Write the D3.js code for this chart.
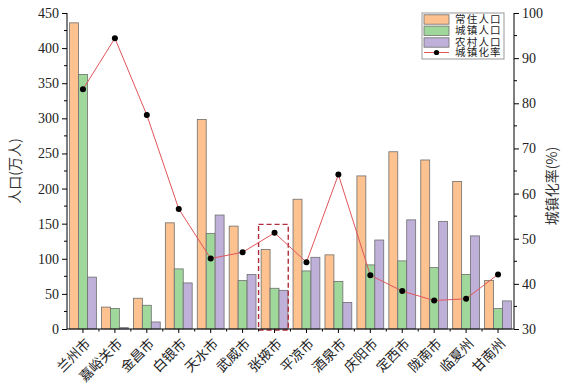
<!DOCTYPE html>
<html><head><meta charset="utf-8">
<script src="https://cdn.jsdelivr.net/npm/d3@7"></script>
<style>body{margin:0;background:#fff}svg{display:block}</style>
</head><body><svg id="c" width="576" height="387"></svg>
<script>
const categories = ["兰州市","嘉峪关市","金昌市","白银市","天水市","武威市","张掖市","平凉市","酒泉市","庆阳市","定西市","陇南市","临夏州","甘南州"];
const resident = [436, 31.2, 43.8, 151.2, 298.5, 146.5, 113.1, 184.8, 105.6, 218.0, 252.4, 240.7, 210.1, 69.1];
const urban = [362.5, 29.3, 33.8, 85.6, 136.2, 68.9, 58.0, 82.7, 67.8, 91.3, 97.0, 87.4, 77.5, 29.1];
const rural = [73.9, 1.9, 10.0, 65.6, 162.3, 77.6, 55.1, 102.1, 37.8, 126.7, 155.4, 153.3, 132.6, 40.0];
const rate = [83.1, 94.4, 77.4, 56.6, 45.6, 47.0, 51.3, 44.8, 64.2, 41.9, 38.4, 36.3, 36.7, 42.1];
const seriesNames = ["常住人口","城镇人口","农村人口"];
const lineName = "城镇化率";
const leftTicks = [0,50,100,150,200,250,300,350,400,450];
const rightTicks = [30,40,50,60,70,80,90,100];
const highlight = "张掖市";

const colors = ["#fdc28f","#a0d79b","#bfb0d9"];
const numFont = "'Liberation Serif', 'DejaVu Serif', serif";
const cjkFont = "'Noto Sans CJK SC', sans-serif";

const svg = d3.select("#c");
const L = 67, R = 514, T = 13, B = 329;

const x0 = d3.scaleBand().domain(categories).range([L, R]).padding(0);
const bw = x0.bandwidth();
const x1 = d3.scaleBand().domain(seriesNames).range([bw*0.08, bw*0.92]).padding(0);
const y = d3.scaleLinear().domain([0,450]).range([B, T]);
const y2 = d3.scaleLinear().domain([30,100]).range([B, T]);

const data = categories.map((c,i)=>({c, v:[resident[i], urban[i], rural[i]], r: rate[i]}));

// bars
const g = svg.append("g");
data.forEach(d=>{
  seriesNames.forEach((s,j)=>{
    g.append("rect")
      .attr("x", x0(d.c)+x1(s)).attr("y", y(d.v[j]))
      .attr("width", x1.bandwidth()).attr("height", B - y(d.v[j]))
      .attr("fill", colors[j]).attr("stroke","#6e6e6e").attr("stroke-width",0.8);
  });
});

// highlight dashed box
svg.append("rect")
  .attr("x", x0(highlight)).attr("y", y(149))
  .attr("width", bw*0.93).attr("height", B - y(149) + 1)
  .attr("fill","none").attr("stroke","#b02c3c").attr("stroke-width",1.4)
  .attr("stroke-dasharray","5,3");

// line
const line = d3.line().x(d=>x0(d.c)+bw/2).y(d=>y2(d.r));
svg.append("path").datum(data).attr("d", line)
  .attr("fill","none").attr("stroke","#e0555a").attr("stroke-width",1);
svg.selectAll(".dot").data(data).enter().append("circle")
  .attr("cx", d=>x0(d.c)+bw/2).attr("cy", d=>y2(d.r)).attr("r",3).attr("fill","#000");

// left axis
const la = svg.append("g").attr("transform",`translate(${L},0)`)
  .call(d3.axisLeft(y).tickValues(leftTicks).tickSize(5).tickPadding(3));
la.select(".domain").attr("d",`M0,${B}V${T}`);
la.selectAll("text").attr("font-family",numFont).attr("font-size",14).attr("fill","#222");
const minorL = d3.range(25,450,50);
la.selectAll(".mn").data(minorL).enter().append("line")
  .attr("x1",0).attr("x2",-3).attr("y1",d=>y(d)).attr("y2",d=>y(d)).attr("stroke","#000");

// right axis
const ra = svg.append("g").attr("transform",`translate(${R},0)`)
  .call(d3.axisRight(y2).tickValues(rightTicks).tickSize(5).tickPadding(3));
ra.select(".domain").attr("d",`M0,${B}V${T}`);
ra.selectAll("text").attr("font-family",numFont).attr("font-size",14).attr("fill","#222");
const minorR = d3.range(35,100,10);
ra.selectAll(".mn").data(minorR).enter().append("line")
  .attr("x1",0).attr("x2",3).attr("y1",d=>y2(d)).attr("y2",d=>y2(d)).attr("stroke","#000");

// bottom axis
const ba = svg.append("g").attr("transform",`translate(0,${B})`)
  .call(d3.axisBottom(x0).tickSize(4).tickPadding(4));
ba.select(".domain").attr("d",`M${L},0H${R}`);
ba.selectAll("text")
  .attr("font-family",cjkFont).attr("font-size",13.5).attr("fill","#222")
  .attr("text-anchor","end")
  .attr("x",0).attr("y",0).attr("dy","0.35em")
  .attr("transform","translate(5,12) rotate(-45)");
const bounds = categories.slice(1).map(c=>x0(c));
ba.selectAll(".mn").data(bounds).enter().append("line")
  .attr("x1",d=>d).attr("x2",d=>d).attr("y1",0).attr("y2",2.5).attr("stroke","#000");

// axis titles
svg.append("text").attr("transform","translate(20,171) rotate(-90)")
  .attr("text-anchor","middle").attr("font-family",cjkFont).attr("font-size",14).attr("fill","#333")
  .text("人口(万人)");
svg.append("text").attr("transform","translate(557,186) rotate(-90)")
  .attr("text-anchor","middle").attr("font-family",cjkFont).attr("font-size",14).attr("fill","#333")
  .text("城镇化率(%)");

// legend
const lg = svg.append("g").attr("transform","translate(422,13)");
lg.append("rect").attr("x",0).attr("y",0).attr("width",82).attr("height",46)
  .attr("fill","#fff").attr("stroke","#999").attr("stroke-width",1);
const rowY = [6, 17.3, 29, 39.5];
seriesNames.forEach((s,j)=>{
  lg.append("rect").attr("x",2).attr("y",rowY[j]-4.5+0.3).attr("width",25).attr("height",9.4)
    .attr("fill",colors[j]).attr("stroke","#6e6e6e").attr("stroke-width",0.8);
  lg.append("text").attr("x",33).attr("y",rowY[j]).attr("dy","0.36em")
    .attr("font-family",cjkFont).attr("font-size",10.5).attr("fill","#222")
    .attr("letter-spacing","1.2px").text(s);
});
lg.append("line").attr("x1",2).attr("x2",27).attr("y1",rowY[3]).attr("y2",rowY[3])
  .attr("stroke","#e0555a").attr("stroke-width",1);
lg.append("circle").attr("cx",14.5).attr("cy",rowY[3]).attr("r",2.6).attr("fill","#000");
lg.append("text").attr("x",33).attr("y",rowY[3]).attr("dy","0.36em")
  .attr("font-family",cjkFont).attr("font-size",10.5).attr("fill","#222")
  .attr("letter-spacing","1.2px").text(lineName);
</script></body></html>
